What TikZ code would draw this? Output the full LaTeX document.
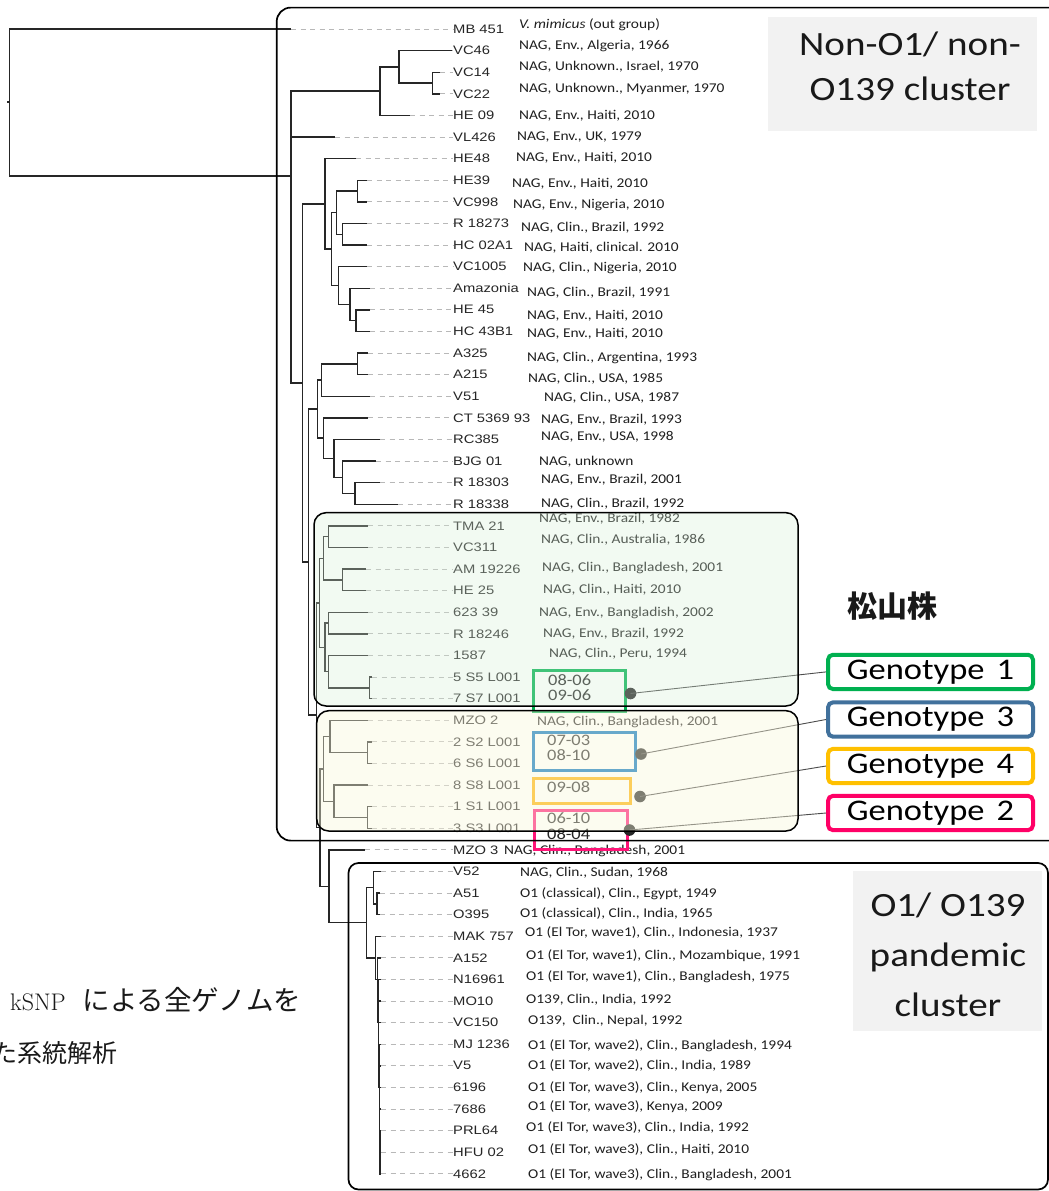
\documentclass[tikz,border=0pt]{standalone}
\usepackage{fontspec}
\newfontfamily\tipf[FakeStretch=1.2]{Liberation Sans}
\newfontfamily\clf[FakeStretch=1.15]{Carlito}
\newfontfamily\jpf{Noto Sans CJK JP}
\definecolor{gGreen}{RGB}{0,176,80}
\definecolor{gBlue}{RGB}{65,113,156}
\definecolor{gYel}{RGB}{255,192,0}
\definecolor{gPink}{RGB}{255,0,102}
\definecolor{sBlue}{RGB}{0,112,192}
\definecolor{sYel}{RGB}{255,176,0}
\definecolor{sPink}{RGB}{255,20,120}
\definecolor{ovG}{RGB}{215,240,215}
\definecolor{ovY}{RGB}{250,248,220}
\definecolor{lgray}{RGB}{242,242,242}
\tikzset{
  branch/.style={draw=black!85, line width=1.4pt},
  dsh/.style={draw=black!28, line width=0.9pt, dash pattern=on 5pt off 4.5pt},
  tiplab/.style={anchor=west, inner sep=0pt, font=\tipf\fontsize{12.3}{14}\selectfont, text=black!85},
  annlab/.style={anchor=west, inner sep=0pt, font=\clf\fontsize{13.4}{15}\selectfont, text=black!88},
  smallbox/.style={draw=#1, line width=3pt, inner sep=0pt, fill=none},
  smalltxt/.style={anchor=west, inner sep=0pt, font=\clf\fontsize{16}{18}\selectfont, text=black!85},
  gdot/.style={circle, fill=black!85, minimum size=11.6pt, inner sep=0pt},
  conn/.style={draw=black!70, line width=0.9pt},
  genobox/.style={draw=#1, line width=4pt, rounded corners=5pt, fill=white, minimum width=205pt, minimum height=34.3pt, inner sep=0pt, font=\clf\fontsize{30}{34}\selectfont},
  overlaybox/.style={draw=black, line width=1.5pt, rounded corners=12pt, fill=#1, inner sep=0pt},
  clusterbox/.style={draw=black, line width=1.7pt, inner sep=0pt},
  graylab/.style={fill=lgray, inner sep=0pt},
  clustertxt/.style={align=center, inner sep=0pt, text=black!90}
}
% name, index, xend, label, annx, anny, annotation
\newcommand{\mytip}[7]{%
  \coordinate (#1) at (#3,{29+21.6*#2});
  \node[tiplab] (#1l) at (453,{29+21.6*#2}) {#4};
  \draw[dsh] (#1) -- (#1l.west);
  \node[annlab] (#1a) at (#5,#6) {#7};
}
\newcommand{\mytipn}[4]{%
  \coordinate (#1) at (#3,{29+21.6*#2});
  \node[tiplab] (#1l) at (453,{29+21.6*#2}) {#4};
  \draw[dsh] (#1) -- (#1l.west);
}
\newcommand{\treebin}[3]{\draw[branch] (#2) -- (#1|-#2) -- (#1|-#3) -- (#3);}
\begin{document}
\begin{tikzpicture}[x=1pt,y=-1pt]
\fill[white] (0,0) rectangle (1049,1191);
\useasboundingbox (0,0) rectangle (1049,1191);

% ---------- tips ----------
\mytip{mb}{0}{291}{MB 451}{519}{25}{\textit{V. mimicus} (out group)}
\mytip{vc46}{1}{452}{VC46}{519}{46}{NAG, Env., Algeria, 1966}
\mytip{vc14}{2}{440}{VC14}{519}{67}{NAG, Unknown., Israel, 1970}
\mytip{vc22}{3}{440}{VC22}{519}{89}{NAG, Unknown., Myanmer, 1970}
\mytip{he09}{4}{410}{HE 09}{519}{116}{NAG, Env., Haiti, 2010}
\mytip{vl426}{5}{335}{VL426}{517}{137}{NAG, Env., UK, 1979}
\mytip{he48}{6}{356}{HE48}{516}{158}{NAG, Env., Haiti, 2010}
\mytip{he39}{7}{367}{HE39}{512}{184}{NAG, Env., Haiti, 2010}
\mytip{vc998}{8}{367}{VC998}{513}{205}{NAG, Env., Nigeria, 2010}
\mytip{r18273}{9}{367}{R 18273}{521}{228}{NAG, Clin., Brazil, 1992}
\mytip{hc02}{10}{367}{HC 02A1}{524}{248}{NAG, Haiti, clinical. 2010}
\mytip{vc1005}{11}{367}{VC1005}{523}{268}{NAG, Clin., Nigeria, 2010}
\mytip{amaz}{12}{370}{Amazonia}{527}{293}{NAG, Clin., Brazil, 1991}
\mytip{he45}{13}{370}{HE 45}{527}{316}{NAG, Env., Haiti, 2010}
\mytip{hc43}{14}{370}{HC 43B1}{527}{334}{NAG, Env., Haiti, 2010}
\mytip{a325}{15}{368}{A325}{527}{358}{NAG, Clin., Argentina, 1993}
\mytip{a215}{16}{368}{A215}{528}{379}{NAG, Clin., USA, 1985}
\mytip{v51}{17}{370}{V51}{544}{398}{NAG, Clin., USA, 1987}
\mytip{ct}{18}{368}{CT 5369 93}{541}{420}{NAG, Env., Brazil, 1993}
\mytip{rc385}{19}{380}{RC385}{541}{437}{NAG, Env., USA, 1998}
\mytip{bjg}{20}{376}{BJG 01}{539}{462}{NAG, unknown}
\mytip{r18303}{21}{380}{R 18303}{541}{480}{NAG, Env., Brazil, 2001}
\mytip{r18338}{22}{398}{R 18338}{541}{504}{NAG, Clin., Brazil, 1992}
\mytip{tma}{23}{368}{TMA 21}{539}{519}{NAG, Env., Brazil, 1982}
\mytip{vc311}{24}{368}{VC311}{541}{540}{NAG, Clin., Australia, 1986}
\mytip{am}{25}{366}{AM 19226}{542}{568}{NAG, Clin., Bangladesh, 2001}
\mytip{he25}{26}{366}{HE 25}{543}{590}{NAG, Clin., Haiti, 2010}
\mytip{s623}{27}{368}{623 39}{539}{613}{NAG, Env., Bangladish, 2002}
\mytip{r18246}{28}{368}{R 18246}{543}{634}{NAG, Env., Brazil, 1992}
\mytip{s1587}{29}{368}{1587}{549}{654}{NAG, Clin., Peru, 1994}
\mytipn{s5}{30}{372}{5 S5 L001}
\mytipn{s7}{31}{372}{7 S7 L001}
\mytip{mzo2}{32}{368}{MZO 2}{537}{722}{NAG, Clin., Bangladesh, 2001}
\mytipn{s2}{33}{372}{2 S2 L001}
\mytipn{s6}{34}{372}{6 S6 L001}
\mytipn{s8}{35}{368}{8 S8 L001}
\mytipn{s1}{36}{372}{1 S1 L001}
\mytipn{s3}{37}{372}{3 S3 L001}
\mytip{mzo3}{38}{365}{MZO 3}{504}{851}{NAG, Clin., Bangladesh, 2001}
\mytip{v52}{39}{381}{V52}{520}{873}{NAG, Clin., Sudan, 1968}
\mytip{a51}{40}{380}{A51}{520}{894}{O1 (classical), Clin., Egypt, 1949}
\mytip{o395}{41}{380}{O395}{520}{914}{O1 (classical), Clin., India, 1965}
\mytip{mak}{42}{381}{MAK 757}{525}{933}{O1 (El Tor, wave1), Clin., Indonesia, 1937}
\mytip{a152}{43}{381}{A152}{526}{956}{O1 (El Tor, wave1), Clin., Mozambique, 1991}
\mytip{n16961}{44}{381}{N16961}{526}{977}{O1 (El Tor, wave1), Clin., Bangladesh, 1975}
\mytip{mo10}{45}{381}{MO10}{526}{1000}{O139, Clin., India, 1992}
\mytip{vc150}{46}{381}{VC150}{528}{1021}{O139,\ \ Clin., Nepal, 1992}
\mytip{mj}{47}{381}{MJ 1236}{528}{1046}{O1 (El Tor, wave2), Clin., Bangladesh, 1994}
\mytip{v5}{48}{381}{V5}{528}{1066}{O1 (El Tor, wave2), Clin., India, 1989}
\mytip{s6196}{49}{381}{6196}{528}{1088}{O1 (El Tor, wave3), Clin., Kenya, 2005}
\mytip{s7686}{50}{381}{7686}{528}{1107}{O1 (El Tor, wave3), Kenya, 2009}
\mytip{prl}{51}{381}{PRL64}{526}{1128}{O1 (El Tor, wave3), Clin., India, 1992}
\mytip{hfu}{52}{381}{HFU 02}{528}{1150}{O1 (El Tor, wave3), Clin., Haiti, 2010}
\mytip{s4662}{53}{381}{4662}{528}{1175}{O1 (El Tor, wave3), Clin., Bangladesh, 2001}

% ---------- internal nodes ----------
\coordinate (root) at (9.6,102);
\coordinate (rstub) at (7.0,102);
\coordinate (n0) at (291,176);
\coordinate (cA) at (379.8,91);
\coordinate (cA1) at (398.8,66.8);
\coordinate (cA2) at (432.2,83);
\coordinate (n1) at (302.7,383);
\coordinate (h0) at (325,204);
\coordinate (h1) at (331.7,249);
\coordinate (h2) at (336.7,212.6);
\coordinate (h2a) at (357.3,191);
\coordinate (h2b) at (342.7,234.2);
\coordinate (h3) at (338.3,285.5);
\coordinate (h4) at (350,304.4);
\coordinate (h5) at (356,320.6);
\coordinate (n2) at (308.3,562);
\coordinate (m0) at (317.7,409);
\coordinate (m1) at (321.7,380);
\coordinate (m1a) at (357.3,363.8);
\coordinate (m2) at (323.3,438);
\coordinate (m3) at (334,458.3);
\coordinate (m4) at (342.7,477.2);
\coordinate (m5) at (355,493.4);
\coordinate (n3) at (316.5,715);
\coordinate (g0) at (319.5,603);
\coordinate (g1) at (323.3,558.2);
\coordinate (g1a) at (328.3,536.6);
\coordinate (g1b) at (342.7,579.8);
\coordinate (g2) at (325,647.3);
\coordinate (g2a) at (328.3,623);
\coordinate (g2b) at (328.3,671.6);
\coordinate (g2c) at (369.3,687.8);
\coordinate (n4) at (319.8,827.5);
\coordinate (y0) at (323.3,768.8);
\coordinate (y1) at (330,736.4);
\coordinate (y1a) at (367.3,752.6);
\coordinate (y2) at (334,801.2);
\coordinate (y2a) at (367.3,817.4);
\coordinate (n5) at (329,886.3);
\coordinate (p0) at (366.4,922.7);
\coordinate (p1) at (373.6,887.6);
\coordinate (p1a) at (377,903.8);
\coordinate (e1) at (375.4,957.8);
\coordinate (e2) at (377.5,979.4);
\coordinate (e3) at (378,1001);
\coordinate (e4) at (378.3,1022.5);
\coordinate (e5) at (378.6,1044);
\coordinate (e6) at (378.9,1065.5);
\coordinate (e7) at (379.2,1086.8);
\coordinate (e8) at (379.4,1107.7);
\coordinate (e9) at (379.6,1128);
\coordinate (e10) at (379.8,1146.8);
\coordinate (e11) at (380,1163);

% ---------- branches ----------
\draw[branch] (rstub) -- (root);
\treebin{root}{mb}{n0}
\draw[branch] (cA) -- (n0|-cA) -- (n0|-n1) -- (n1);
\draw[branch] (n0|-vl426) -- (vl426);
\treebin{cA}{cA1}{he09}
\treebin{cA1}{vc46}{cA2}
\treebin{cA2}{vc14}{vc22}
\treebin{n1}{h0}{n2}
\treebin{h0}{he48}{h1}
\treebin{h1}{h2}{h3}
\treebin{h2}{h2a}{h2b}
\treebin{h2a}{he39}{vc998}
\treebin{h2b}{r18273}{hc02}
\treebin{h3}{vc1005}{h4}
\treebin{h4}{amaz}{h5}
\treebin{h5}{he45}{hc43}
\treebin{n2}{m0}{n3}
\treebin{m0}{m1}{m2}
\treebin{m1}{m1a}{v51}
\treebin{m1a}{a325}{a215}
\treebin{m2}{ct}{m3}
\treebin{m3}{rc385}{m4}
\treebin{m4}{bjg}{m5}
\treebin{m5}{r18303}{r18338}
\treebin{n3}{g0}{n4}
\treebin{g0}{g1}{g2}
\treebin{g1}{g1a}{g1b}
\treebin{g1a}{tma}{vc311}
\treebin{g1b}{am}{he25}
\treebin{g2}{g2a}{g2b}
\treebin{g2a}{s623}{r18246}
\treebin{g2b}{s1587}{g2c}
\treebin{g2c}{s5}{s7}
\treebin{n4}{y0}{n5}
\treebin{y0}{y1}{y2}
\treebin{y1}{mzo2}{y1a}
\treebin{y1a}{s2}{s6}
\treebin{y2}{s8}{y2a}
\treebin{y2a}{s1}{s3}
\treebin{n5}{mzo3}{p0}
\treebin{p0}{p1}{e1}
\treebin{p1}{v52}{p1a}
\treebin{p1a}{a51}{o395}
\treebin{e1}{mak}{e2}
\treebin{e2}{a152}{e3}
\treebin{e3}{n16961}{e4}
\treebin{e4}{mo10}{e5}
\treebin{e5}{vc150}{e6}
\treebin{e6}{mj}{e7}
\treebin{e7}{v5}{e8}
\treebin{e8}{s6196}{e9}
\treebin{e9}{s7686}{e10}
\treebin{e10}{prl}{e11}
\treebin{e11}{hfu}{s4662}

% ---------- genotype label boxes ----------
\node[genobox=gGreen] (G1) at (930.5,671.9) {Genotype\hspace{0.4em}1\hspace{15pt}};
\node[genobox=gBlue] (G3) at (930.5,719.5) {Genotype\hspace{0.4em}3\hspace{15pt}};
\node[genobox=gYel] (G4) at (930.5,766) {Genotype\hspace{0.4em}4\hspace{15pt}};
\node[genobox=gPink] (G2) at (930.5,813) {Genotype\hspace{0.4em}2\hspace{15pt}};

% ---------- strain boxes ----------
\node[smallbox=gGreen, minimum width=92pt, minimum height=41pt] (sb1) at (579.5,691) {};
\node[smallbox=sBlue, minimum width=101.4pt, minimum height=38pt] (sb3) at (584.5,751.2) {};
\node[smallbox=sYel, minimum width=96.4pt, minimum height=25.3pt] (sb4) at (582,790.8) {};
\node[smallbox=sPink, minimum width=93pt, minimum height=39pt] (sb2) at (581.3,830) {};
\node[smalltxt] (t11) at (548,680.5) {08-06};
\node[smalltxt] (t12) at (548,695) {09-06};
\node[smalltxt] (t31) at (547,740.5) {07-03};
\node[smalltxt] (t32) at (547,755) {08-10};
\node[smalltxt] (t41) at (547,787.5) {09-08};
\node[smalltxt] (t21) at (547,818.5) {06-10};
\node[smalltxt] (t22) at (547,834) {08-04};

\node[gdot] (d1) at (630.5,693.5) {};
\node[gdot] (d3) at (641,754) {};
\node[gdot] (d4) at (640,796.5) {};
\node[gdot] (d2) at (629.5,830) {};
\draw[conn] (d1.center) -- (G1.west);
\draw[conn] (d3.center) -- (G3.west);
\draw[conn] (d4.center) -- (G4.west);
\draw[conn] (d2.center) -- (G2.west);

% ---------- translucent clade boxes ----------
\node[overlaybox=ovG, fill opacity=0.3, minimum width=484pt, minimum height=193.3pt] (greenbox) at (556,609.35) {};
\node[overlaybox=ovY, fill opacity=0.42, minimum width=481.3pt, minimum height=120.3pt] (yellowbox) at (557.35,770.85) {};

% ---------- cluster boxes ----------
\node[clusterbox, rounded corners=14pt, minimum width=790pt, minimum height=833pt] (nonbox) at (671.7,424.1) {};
\node[clusterbox, rounded corners=10pt, minimum width=699.5pt, minimum height=326.5pt] (panbox) at (698.25,1026.25) {};

\node[graylab, minimum width=269pt, minimum height=114pt] (nonlabbg) at (902.5,74) {};
\node[clustertxt, font=\clf\fontsize{34}{45}\selectfont] (nonlab) at (910,66.5) {Non-O1/ non-\\O139 cluster};
\node[graylab, minimum width=189pt, minimum height=160pt] (panlabbg) at (947.5,951) {};
\node[clustertxt, font=\clf\fontsize{34}{50}\selectfont] (panlab) at (948,955) {O1/ O139\\pandemic\\cluster};

% ---------- Japanese texts ----------
\node[inner sep=0pt, text=black!90, font=\jpf\bfseries\fontsize{30}{32}\selectfont] (mtym) at (892,606) {松山株};
\node[anchor=base west, inner sep=0pt, text=black!90] (cap1) at (10,1010) {\fontsize{24}{26}\selectfont kSNP\hspace{17pt}{\jpf\fontsize{27.5}{30}\selectfont による全ゲノムを}};
\node[anchor=base west, inner sep=0pt, text=black!90, font=\jpf\fontsize{25}{28}\selectfont] (cap2) at (-8,1062) {た系統解析};
\end{tikzpicture}
\end{document}
